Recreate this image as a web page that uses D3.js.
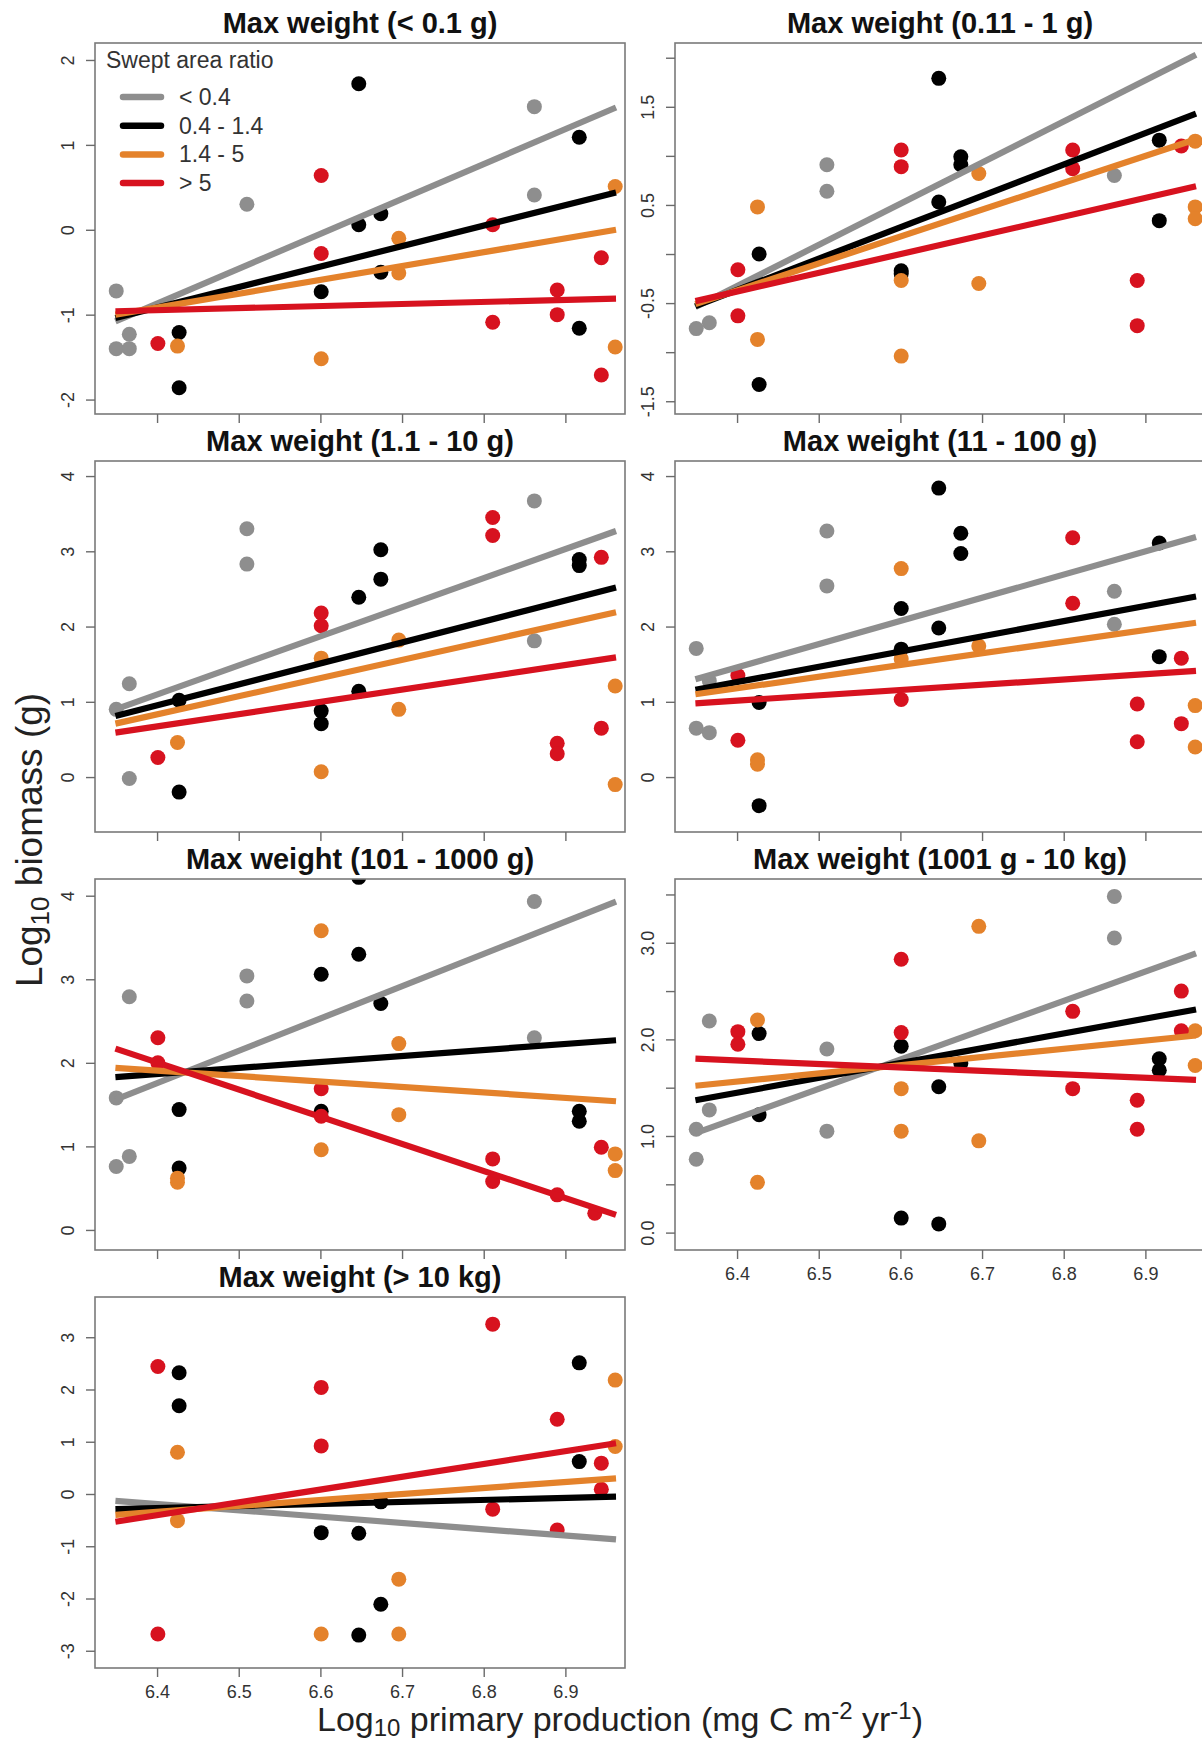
<!DOCTYPE html>
<html>
<head>
<meta charset="utf-8">
<script src="https://cdn.jsdelivr.net/npm/d3@7"></script>
<style>
  body { margin: 0; background: #fff; }
  svg { display: block; font-family: "Liberation Sans", Arial, sans-serif; }
</style>
</head>
<body>
<div id="chart"></div>
<script>
// panel titles, series
const titles = [
  "Max weight (< 0.1 g)", "Max weight (0.11 - 1 g)",
  "Max weight (1.1 - 10 g)", "Max weight (11 - 100 g)",
  "Max weight (101 - 1000 g)", "Max weight (1001 g - 10 kg)",
  "Max weight (> 10 kg)"
];
const seriesNames = ["< 0.4", "0.4 - 1.4", "1.4 - 5", "> 5"];
const seriesColors = ["#8e8e8e", "#000000", "#e4822b", "#d7121f"];

const xTicks = [6.4, 6.5, 6.6, 6.7, 6.8, 6.9];
const xDomain = [6.324, 6.973];
const fitX = [6.349, 6.962];

// y axis per panel
const yDomains = [[-2.17, 2.2], [-1.63, 2.15], [-0.73, 4.2], [-0.73, 4.2], [-0.24, 4.2], [-0.18, 3.66], [-3.33, 3.77]];
const yTicks = [
  [-2, -1, 0, 1, 2],
  [-1.5, -1, -0.5, 0, 0.5, 1, 1.5, 2],
  [0, 1, 2, 3, 4],
  [0, 1, 2, 3, 4],
  [0, 1, 2, 3, 4],
  [0, 0.5, 1, 1.5, 2, 2.5, 3, 3.5],
  [-3, -2, -1, 0, 1, 2, 3]
];
const yTickLabels = [
  ["-2", "-1", "0", "1", "2"],
  ["-1.5", "", "-0.5", "", "0.5", "", "1.5", ""],
  ["0", "1", "2", "3", "4"],
  ["0", "1", "2", "3", "4"],
  ["0", "1", "2", "3", "4"],
  ["0.0", "", "1.0", "", "2.0", "", "3.0", ""],
  ["-3", "-2", "-1", "0", "1", "2", "3"]
];

// points: [series, log10 PP, log10 biomass]
const pts1 = [
  [0, 6.35, -0.72], [0, 6.35, -1.40], [0, 6.366, -1.40], [0, 6.366, -1.23], [0, 6.51, 0.30], [0, 6.862, 1.45], [0, 6.862, 0.41],
  [1, 6.647, 1.72], [1, 6.427, -1.21], [1, 6.427, -1.86], [1, 6.601, -0.73], [1, 6.647, 0.06], [1, 6.674, 0.19], [1, 6.674, -0.50], [1, 6.917, 1.09], [1, 6.917, -1.16],
  [2, 6.425, -1.37], [2, 6.601, -1.52], [2, 6.696, -0.10], [2, 6.696, -0.51], [2, 6.961, 0.51], [2, 6.961, -1.38],
  [3, 6.401, -1.34], [3, 6.601, 0.64], [3, 6.601, -0.28], [3, 6.811, 0.06], [3, 6.811, -1.09], [3, 6.89, -0.71], [3, 6.89, -1.0], [3, 6.944, -0.33], [3, 6.944, -1.71]
];
const pts2 = [
  [0, 6.35, -0.76], [0, 6.366, -0.70], [0, 6.51, 0.91], [0, 6.51, 0.64], [0, 6.862, 0.80],
  [1, 6.647, 1.79], [1, 6.427, 0.0], [1, 6.427, -1.33], [1, 6.601, -0.17], [1, 6.601, -0.20], [1, 6.647, 0.53], [1, 6.674, 0.99], [1, 6.674, 0.91], [1, 6.917, 1.16], [1, 6.917, 0.34],
  [2, 6.425, 0.48], [2, 6.425, -0.87], [2, 6.601, -0.27], [2, 6.601, -1.04], [2, 6.696, 0.82], [2, 6.696, -0.30], [2, 6.961, 1.15], [2, 6.961, 0.48], [2, 6.961, 0.36],
  [3, 6.401, -0.16], [3, 6.401, -0.63], [3, 6.601, 1.06], [3, 6.601, 0.89], [3, 6.811, 1.06], [3, 6.811, 0.87], [3, 6.89, -0.27], [3, 6.89, -0.73], [3, 6.944, 1.10]
];
const pts3 = [
  [0, 6.35, 0.90], [0, 6.366, 1.24], [0, 6.366, -0.02], [0, 6.51, 3.30], [0, 6.51, 2.83], [0, 6.862, 3.67], [0, 6.862, 1.81],
  [1, 6.427, 1.02], [1, 6.427, -0.20], [1, 6.601, 0.88], [1, 6.601, 0.71], [1, 6.647, 2.39], [1, 6.647, 1.14], [1, 6.674, 2.63], [1, 6.674, 3.02], [1, 6.917, 2.89], [1, 6.917, 2.81],
  [2, 6.425, 0.46], [2, 6.601, 1.58], [2, 6.601, 0.07], [2, 6.696, 1.82], [2, 6.696, 0.90], [2, 6.961, 1.21], [2, 6.961, -0.10],
  [3, 6.401, 0.26], [3, 6.601, 2.18], [3, 6.601, 2.01], [3, 6.811, 3.45], [3, 6.811, 3.21], [3, 6.89, 0.45], [3, 6.89, 0.31], [3, 6.944, 2.92], [3, 6.944, 0.65]
];
const pts4 = [
  [0, 6.35, 1.71], [0, 6.35, 0.65], [0, 6.366, 0.59], [0, 6.366, 1.28], [0, 6.51, 3.27], [0, 6.51, 2.54], [0, 6.862, 2.47], [0, 6.862, 2.03],
  [1, 6.647, 3.84], [1, 6.674, 3.24], [1, 6.674, 2.97], [1, 6.601, 2.24], [1, 6.647, 1.98], [1, 6.601, 1.70], [1, 6.427, 0.99], [1, 6.427, -0.38], [1, 6.917, 3.11], [1, 6.917, 1.60],
  [2, 6.601, 2.77], [2, 6.601, 1.57], [2, 6.696, 1.74], [2, 6.425, 0.23], [2, 6.425, 0.17], [2, 6.961, 0.95], [2, 6.961, 0.40],
  [3, 6.401, 1.35], [3, 6.401, 0.49], [3, 6.601, 1.03], [3, 6.811, 3.18], [3, 6.811, 2.31], [3, 6.89, 0.97], [3, 6.89, 0.47], [3, 6.944, 1.58], [3, 6.944, 0.71]
];
const pts5 = [
  [0, 6.35, 1.58], [0, 6.35, 0.76], [0, 6.366, 0.88], [0, 6.366, 2.79], [0, 6.51, 3.04], [0, 6.51, 2.74], [0, 6.862, 3.93], [0, 6.862, 2.30],
  [1, 6.647, 4.22], [1, 6.601, 3.06], [1, 6.647, 3.30], [1, 6.674, 2.71], [1, 6.427, 1.44], [1, 6.427, 0.74], [1, 6.601, 1.42], [1, 6.917, 1.42], [1, 6.917, 1.30],
  [2, 6.601, 3.58], [2, 6.696, 2.23], [2, 6.696, 1.38], [2, 6.601, 0.96], [2, 6.425, 0.57], [2, 6.425, 0.62], [2, 6.961, 0.91], [2, 6.961, 0.71],
  [3, 6.401, 2.30], [3, 6.401, 2.0], [3, 6.601, 1.69], [3, 6.601, 1.36], [3, 6.811, 0.85], [3, 6.811, 0.58], [3, 6.89, 0.42], [3, 6.944, 0.99], [3, 6.936, 0.20]
];
const pts6 = [
  [0, 6.862, 3.48], [0, 6.862, 3.05], [0, 6.366, 2.19], [0, 6.51, 1.90], [0, 6.366, 1.27], [0, 6.35, 1.07], [0, 6.35, 0.76], [0, 6.51, 1.05],
  [1, 6.427, 2.06], [1, 6.427, 1.22], [1, 6.601, 1.93], [1, 6.647, 1.51], [1, 6.601, 0.15], [1, 6.647, 0.09], [1, 6.674, 1.75], [1, 6.917, 1.80], [1, 6.917, 1.68],
  [2, 6.696, 3.17], [2, 6.425, 2.20], [2, 6.601, 1.49], [2, 6.601, 1.05], [2, 6.696, 0.95], [2, 6.425, 0.52], [2, 6.961, 2.09], [2, 6.961, 1.73],
  [3, 6.401, 2.08], [3, 6.401, 1.95], [3, 6.601, 2.83], [3, 6.601, 2.07], [3, 6.811, 2.29], [3, 6.811, 1.49], [3, 6.89, 1.37], [3, 6.89, 1.07], [3, 6.944, 2.50], [3, 6.944, 2.09]
];
const pts7 = [
  [1, 6.427, 2.32], [1, 6.427, 1.69], [1, 6.917, 2.51], [1, 6.917, 0.62], [1, 6.601, -0.74], [1, 6.647, -0.75], [1, 6.674, -2.11], [1, 6.647, -2.70], [1, 6.674, -0.15],
  [2, 6.425, 0.80], [2, 6.425, -0.51], [2, 6.696, -1.63], [2, 6.601, -2.68], [2, 6.696, -2.68], [2, 6.961, 2.18], [2, 6.961, 0.91],
  [3, 6.811, 3.25], [3, 6.401, 2.44], [3, 6.601, 2.04], [3, 6.601, 0.92], [3, 6.89, 1.43], [3, 6.944, 0.59], [3, 6.944, 0.09], [3, 6.811, -0.29], [3, 6.89, -0.69], [3, 6.401, -2.68]
];
const allPoints = [pts1, pts2, pts3, pts4, pts5, pts6, pts7];

// fitted lines: biomass at fitX[0] and fitX[1], series order
const fit1 = [[-1.08, 1.44], [-1.04, 0.44], [-1.0, 0.0], [-0.96, -0.81]];
const fit2 = [[-0.54, 2.03], [-0.53, 1.43], [-0.51, 1.17], [-0.48, 0.69]];
const fit3 = [[0.90, 3.27], [0.81, 2.52], [0.71, 2.19], [0.59, 1.59]];
const fit4 = [[1.30, 3.19], [1.16, 2.40], [1.10, 2.05], [0.98, 1.41]];
const fit5 = [[1.56, 3.93], [1.83, 2.27], [1.94, 1.54], [2.17, 0.18]];
const fit6 = [[1.03, 2.89], [1.37, 2.31], [1.52, 2.04], [1.80, 1.58]];
const fit7 = [[-0.13, -0.87], [-0.29, -0.05], [-0.40, 0.30], [-0.53, 0.97]];
const allFits = [fit1, fit2, fit3, fit4, fit5, fit6, fit7];

const W = 1202;
const H = 1744;
const COL_X = [95, 675];
const ROW_Y = [43, 461, 879, 1297];
const FW = 530;
const FH = 371;

const svg = d3.select("#chart").append("svg").attr("width", W).attr("height", H);

titles.forEach((title, i) => {
  const row = Math.floor(i / 2), col = i % 2;
  const left = COL_X[col], top = ROW_Y[row];
  const x = d3.scaleLinear().domain(xDomain).range([left, left + FW]);
  const y = d3.scaleLinear().domain(yDomains[i]).range([top + FH, top]);

  const g = svg.append("g");

  g.append("clipPath").attr("id", "clip" + i)
    .append("rect").attr("x", left).attr("y", top).attr("width", FW).attr("height", FH);

  // points first, lines over them
  const plot = g.append("g").attr("clip-path", `url(#clip${i})`);
  plot.selectAll("circle")
    .data(allPoints[i])
    .join("circle")
    .attr("cx", d => x(d[1]))
    .attr("cy", d => y(d[2]))
    .attr("r", 7.5)
    .attr("fill", d => seriesColors[d[0]]);

  plot.selectAll("line")
    .data(allFits[i])
    .join("line")
    .attr("x1", x(fitX[0]))
    .attr("x2", x(fitX[1]))
    .attr("y1", d => y(d[0]))
    .attr("y2", d => y(d[1]))
    .attr("stroke", (d, k) => seriesColors[k])
    .attr("stroke-width", 6.2);

  // frame
  g.append("rect")
    .attr("x", left).attr("y", top).attr("width", FW).attr("height", FH)
    .attr("fill", "none").attr("stroke", "#7a7a7a").attr("stroke-width", 1.6);

  // axes
  const showX = i === 5 || i === 6;
  const ax = g.append("g")
    .attr("transform", `translate(0,${top + FH})`)
    .call(d3.axisBottom(x).tickValues(xTicks).tickSize(9).tickPadding(8)
      .tickFormat(showX ? d3.format(".1f") : () => ""));
  ax.select(".domain").remove();
  ax.selectAll("line").attr("stroke", "#6a6a6a").attr("stroke-width", 1.4);
  ax.selectAll("text").attr("font-size", 18).attr("fill", "#333")
    .attr("font-family", "Liberation Sans, Arial, sans-serif");

  const labs = yTickLabels[i];
  const ay = g.append("g")
    .attr("transform", `translate(${left},0)`)
    .call(d3.axisLeft(y).tickValues(yTicks[i]).tickSize(9)
      .tickFormat((d, k) => labs[k]));
  ay.select(".domain").remove();
  ay.selectAll("line").attr("stroke", "#6a6a6a").attr("stroke-width", 1.4);
  ay.selectAll("text")
    .attr("x", 0).attr("y", -21).attr("dy", 0)
    .attr("transform", "rotate(-90)")
    .attr("text-anchor", "middle")
    .attr("font-size", 18).attr("fill", "#333")
    .attr("font-family", "Liberation Sans, Arial, sans-serif");

  // title
  g.append("text")
    .attr("x", left + FW / 2)
    .attr("y", top - 10)
    .attr("text-anchor", "middle")
    .attr("font-size", 29)
    .attr("font-weight", "bold")
    .attr("fill", "#111")
    .text(title);
});

// legend in first panel
const leg = svg.append("g").attr("transform", "translate(106,0)");
leg.append("text").attr("x", 0).attr("y", 68).attr("font-size", 23).attr("fill", "#333").text("Swept area ratio");
seriesNames.forEach((name, k) => {
  const cy = 97 + k * 28.7;
  leg.append("line").attr("x1", 17).attr("x2", 55).attr("y1", cy).attr("y2", cy)
    .attr("stroke", seriesColors[k]).attr("stroke-width", 6.5).attr("stroke-linecap", "round");
  leg.append("text").attr("x", 73).attr("y", cy + 8).attr("font-size", 23).attr("fill", "#333").text(name);
});

// axis titles
const xt = svg.append("text")
  .attr("x", 620).attr("y", 1731)
  .attr("text-anchor", "middle")
  .attr("font-size", 34)
  .attr("fill", "#222");
xt.append("tspan").text("Log");
xt.append("tspan").attr("font-size", 24).attr("dy", 5).text("10");
xt.append("tspan").attr("dy", -5).text(" primary production  (mg C m");
xt.append("tspan").attr("font-size", 24).attr("dy", -12).text("-2");
xt.append("tspan").attr("dy", 12).text(" yr");
xt.append("tspan").attr("font-size", 24).attr("dy", -12).text("-1");
xt.append("tspan").attr("dy", 12).text(")");

const yt = svg.append("text")
  .attr("transform", "translate(42,840) rotate(-90)")
  .attr("text-anchor", "middle")
  .attr("font-size", 37)
  .attr("fill", "#222");
yt.append("tspan").text("Log");
yt.append("tspan").attr("font-size", 26).attr("dy", 7).text("10");
yt.append("tspan").attr("dy", -7).text(" biomass (g)");
</script>
</body>
</html>
